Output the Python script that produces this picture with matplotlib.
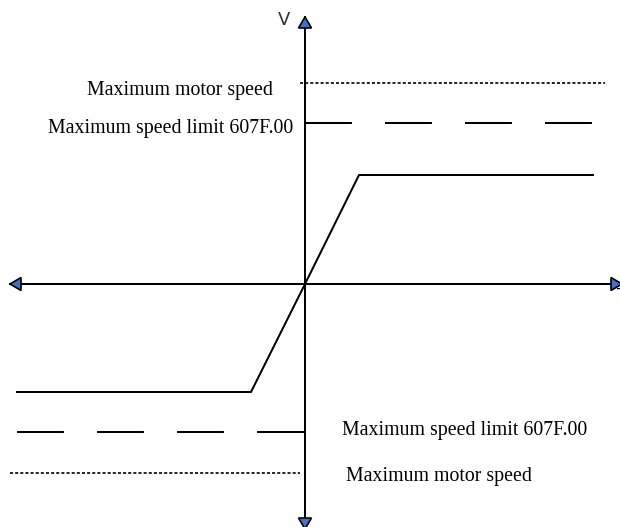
import matplotlib
matplotlib.use("Agg")
import matplotlib.pyplot as plt
from matplotlib.patches import Polygon

plt.rcParams['font.family'] = ['Liberation Serif', 'DejaVu Serif']
plt.rcParams['lines.scale_dashes'] = False

# data (pixel-like units relative to origin)
curve_x = [-288, -54, 0, 54, 288]
curve_y = [-108, -108, 0, 109, 109]
limit_levels = [161, -148]          # Maximum speed limit 607F.00 (dashed)
limit_spans = [(0, 288), (-288, 0)]
motor_levels = [201, -189]          # Maximum motor speed (dotted)
motor_spans = [(-5, 300), (-295, -5)]
labels_top = ["Maximum motor speed", "Maximum speed limit 607F.00"]
labels_bottom = ["Maximum speed limit 607F.00", "Maximum motor speed"]

fig = plt.figure(figsize=(6.2, 5.27), dpi=100)
ax = fig.add_axes([0, 0, 1, 1])
ax.set_xlim(-305, 315)
ax.set_ylim(-243, 284)
ax.axis('off')

lw = 1.45
# axes lines
ax.plot([-295, 315], [0, 0], color='black', lw=lw, zorder=3)
ax.plot([0, 0], [-243, 267], color='black', lw=lw, zorder=3)

def head(tip, direction, L=11, W=6.5):
    tx, ty = tip
    dx, dy = direction
    bx, by = tx - dx * L, ty - dy * L
    px, py = -dy, dx
    pts = [(tx, ty), (bx + px * W, by + py * W), (bx - px * W, by - py * W)]
    ax.add_patch(Polygon(pts, closed=True, facecolor='#4472C4', edgecolor='black',
                         lw=1.2, zorder=5, clip_on=False))

head((-295, 0), (-1, 0))
head((317, 0), (1, 0))
head((0, 267), (0, 1))
head((0, -245), (0, -1))

# curve
ax.plot(curve_x, curve_y, color='black', lw=lw, zorder=4)

# dashed limits
for lev, (a, b) in zip(limit_levels, limit_spans):
    ax.plot([a, b], [lev, lev], color='black', lw=lw, dashes=(33.8, 23.8), zorder=2)
# dotted motor speed
for lev, (a, b) in zip(motor_levels, motor_spans):
    ax.plot([a, b], [lev, lev], color='black', lw=1.2, dashes=(2.2, 1.5), zorder=2)

fs = 14.3
ax.text(-125.5, 194, labels_top[0], ha='center', va='center', fontsize=fs)
ax.text(-134.5, 155, labels_top[1], ha='center', va='center', fontsize=fs)
ax.text(37, -146, labels_bottom[0], ha='left', va='center', fontsize=fs)
ax.text(41, -192, labels_bottom[1], ha='left', va='center', fontsize=fs)

ax.text(-21, 264, "V", ha='center', va='center', fontsize=13,
        family=['DejaVu Sans'], color='#333333')
ax.text(317, -4, "T", ha='center', va='top', fontsize=11, family=['DejaVu Sans'])

fig.savefig("out.png", dpi=100)
